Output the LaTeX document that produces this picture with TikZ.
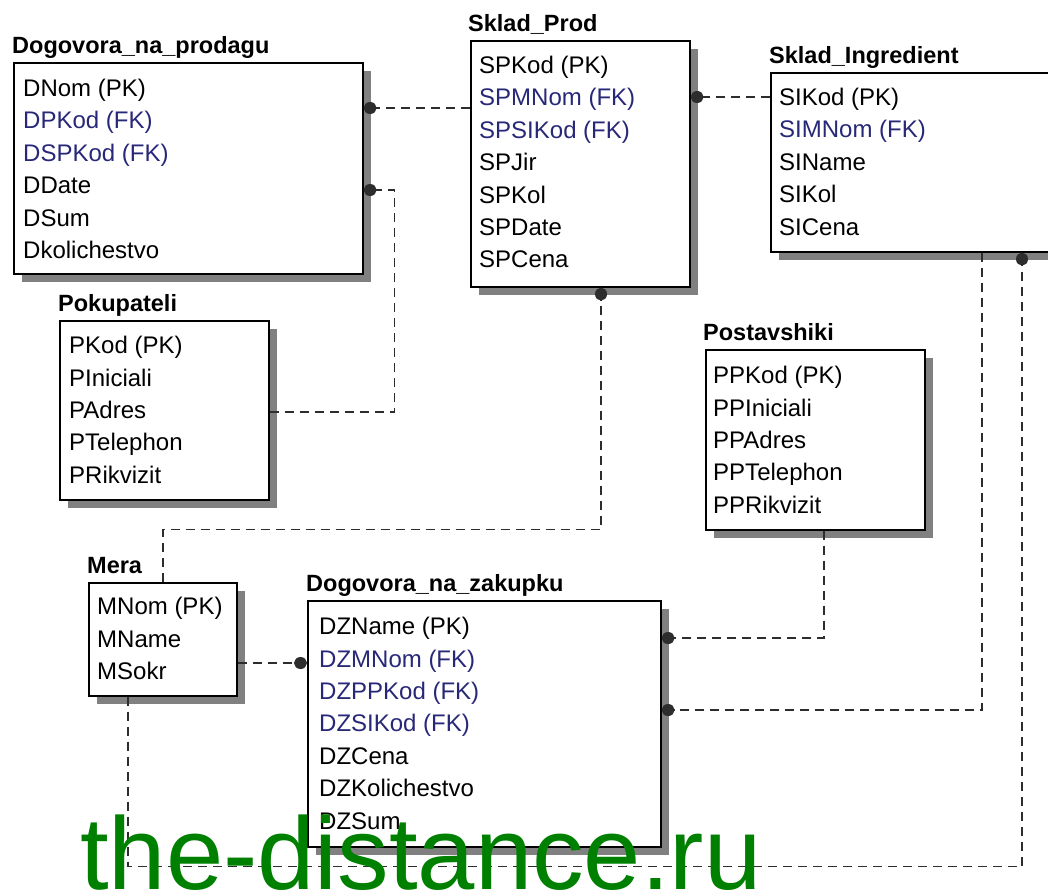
\documentclass[tikz,border=0pt]{standalone}
\usepackage{fontspec}
\setmainfont{Liberation Sans}
\usetikzlibrary{calc}
\usetikzlibrary{shadows}
\usetikzlibrary{arrows.meta}
\definecolor{fkblue}{RGB}{40,40,120}
\definecolor{shadowgray}{RGB}{128,128,128}
\definecolor{linegray}{RGB}{45,45,45}
\definecolor{wmgreen}{RGB}{0,128,0}
\newcommand{\fk}[1]{\textcolor{fkblue}{#1}}

\begin{document}
\begin{tikzpicture}[x=1pt,y=-1pt,
		entity/.style={rectangle,draw=black,line width=1.6pt,fill=white,anchor=north west,inner sep=0pt,
			drop shadow={fill=shadowgray,opacity=1,shadow xshift=8pt,shadow yshift=-8pt}},
		fields/.style={anchor=north west,inner sep=0pt,align=left,font=\fontsize{24}{32.4}\selectfont,
			execute at begin node=\strut},
		title/.style={anchor=base west,inner sep=0pt,font=\bfseries\fontsize{23.5}{26}\selectfont},
		rel/.style={draw=linegray,line width=1.5pt,dash pattern=on 9pt off 6pt},
		dot/.style={-{Circle[length=13pt,width=12pt]}}]
		\useasboundingbox (0,0) rectangle (1048,892);
		
		% tables
		\node[entity,minimum width=349pt,minimum height=211pt] (dnp)  at (13,62)  {};
		\node[entity,minimum width=219pt,minimum height=246pt] (sp)   at (470,40) {};
		\node[entity,minimum width=300pt,minimum height=179pt] (si)   at (770,72) {};
		\node[entity,minimum width=209pt,minimum height=179pt] (pok)  at (59,320) {};
		\node[entity,minimum width=219pt,minimum height=180pt] (post) at (705,349) {};
		\node[entity,minimum width=148pt,minimum height=113pt] (mera) at (88,582) {};
		\node[entity,minimum width=353pt,minimum height=246pt] (dz)   at (307,600) {};
		
		\node[title] (dnp-t)  at ($(dnp.north west)+(-1,-9)$)  {Dogovora\_na\_prodagu};
		\node[title] (sp-t)   at ($(sp.north west)+(-2,-9)$)   {Sklad\_Prod};
		\node[title] (si-t)   at ($(si.north west)+(-1,-9)$)   {Sklad\_Ingredient};
		\node[title] (pok-t)  at ($(pok.north west)+(-1,-9)$)  {Pokupateli};
		\node[title] (post-t) at ($(post.north west)+(-2,-9)$) {Postavshiki};
		\node[title] (mera-t) at ($(mera.north west)+(-1,-9)$) {Mera};
		\node[title] (dz-t)   at ($(dz.north west)+(-1,-9)$)   {Dogovora\_na\_zakupku};
		
		\node[fields] (dnp-f)  at ($(dnp.north west)+(10,17)$)
			{DNom (PK)\\ \fk{DPKod (FK)}\\ \fk{DSPKod (FK)}\\ DDate\\ DSum\\ Dkolichestvo};
		\node[fields] (sp-f)   at ($(sp.north west)+(9,16)$)
			{SPKod (PK)\\ \fk{SPMNom (FK)}\\ \fk{SPSIKod (FK)}\\ SPJir\\ SPKol\\ SPDate\\ SPCena};
		\node[fields] (si-f)   at ($(si.north west)+(9,16)$)
			{SIKod (PK)\\ \fk{SIMNom (FK)}\\ SIName\\ SIKol\\ SICena};
		\node[fields] (pok-f)  at ($(pok.north west)+(10,16)$)
			{PKod (PK)\\ PIniciali\\ PAdres\\ PTelephon\\ PRikvizit};
		\node[fields] (post-f) at ($(post.north west)+(8,17)$)
			{PPKod (PK)\\ PPIniciali\\ PPAdres\\ PPTelephon\\ PPRikvizit};
		\node[fields] (mera-f) at ($(mera.north west)+(9,15)$)
			{MNom (PK)\\ MName\\ MSokr};
		\node[fields] (dz-f)   at ($(dz.north west)+(12,17)$)
			{DZName (PK)\\ \fk{DZMNom (FK)}\\ \fk{DZPPKod (FK)}\\ \fk{DZSIKod (FK)}\\ DZCena\\ DZKolichestvo\\ DZSum};
		
		% relations
		\draw[rel,dot] ($(sp.north west)+(0,68)$) -- ($(dnp.north east)+(0,46)$);
		\draw[rel,dot] ($(pok.north east)+(0,92)$) -| ($(dnp.north east)+(31,128)$) -- ($(dnp.north east)+(0,128)$);
		\draw[rel,dot] ($(si.north west)+(0,25)$) -- ($(sp.north east)+(0,57)$);
		\draw[rel,dot] ($(mera.north west)+(75,0)$) |- ($(sp.south west)+(131,242)$) -- ($(sp.south west)+(131,0)$);
		\draw[rel,dot] ($(si.south west)+(212,0)$) |- ($(dz.north east)+(0,110)$);
		\draw[rel,dot] ($(mera.south west)+(40,0)$) |- ($(si.south west)+(252,614)$) -- ($(si.south west)+(252,0)$);
		\draw[rel,dot] ($(post.south west)+(119,0)$) |- ($(dz.north east)+(0,38)$);
		\draw[rel,dot] ($(mera.north east)+(0,81)$) -- ($(dz.north west)+(0,63)$);
		
		\node[anchor=base west,inner sep=0pt,text=wmgreen,font=\fontsize{103}{103}\selectfont] (wm) at (80,889) {the-distance.ru};
\end{tikzpicture}
\end{document}
